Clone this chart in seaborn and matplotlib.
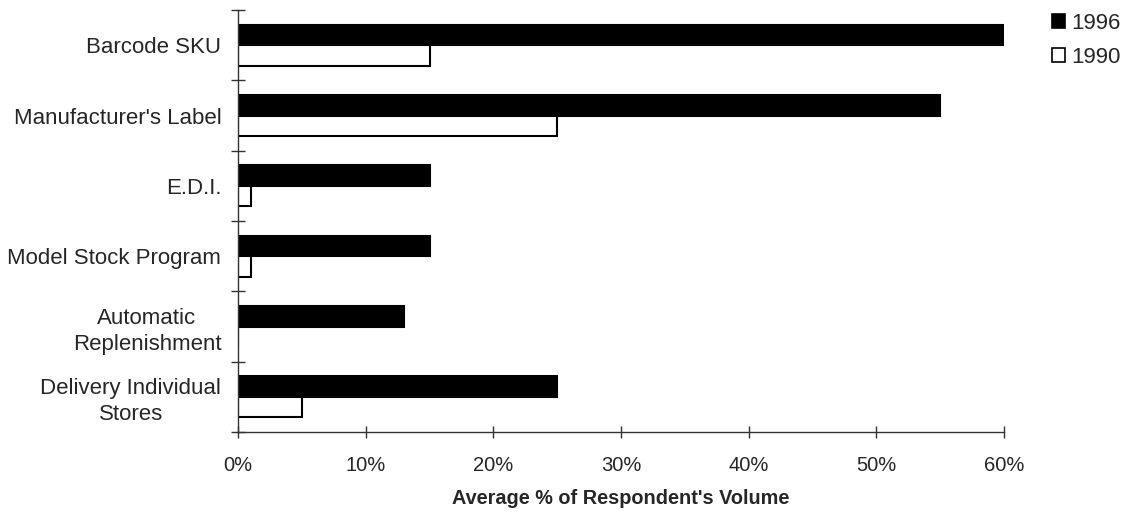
import matplotlib
matplotlib.use("Agg")
import matplotlib.pyplot as plt
from matplotlib.patches import Patch
from matplotlib.ticker import FixedLocator, FuncFormatter
import numpy as np
import pandas as pd
import seaborn as sns

# Survey data: share of respondent volume handled by each practice
categories = [
    "Barcode SKU",
    "Manufacturer's Label",
    "E.D.I.",
    "Model Stock Program",
    "Automatic\nReplenishment",
    "Delivery Individual\nStores",
]
years = ["1996", "1990"]
values_1996 = [60, 55, 15, 15, 13, 25]
values_1990 = [15, 25, 1, 1, 0, 5]
x_ticks = [0, 10, 20, 30, 40, 50, 60]

df = pd.DataFrame({
    "category": categories * 2,
    "year": [years[0]] * len(categories) + [years[1]] * len(categories),
    "value": values_1996 + values_1990,
})

sns.set_style("white")
plt.rcParams["font.family"] = ["Liberation Sans", "DejaVu Sans"]

fig, ax = plt.subplots(figsize=(11.3, 5.14), dpi=100)
fig.subplots_adjust(left=238 / 1130, right=1004 / 1130, top=1 - 10 / 514, bottom=1 - 432 / 514)

palette = {"1996": "black", "1990": "white"}
sns.barplot(
    data=df, y="category", x="value", hue="year", hue_order=years,
    order=categories, orient="h", palette=palette, width=0.58, gap=0,
    edgecolor="black", linewidth=1.5, legend=False, ax=ax,
)

ax.set_xlim(0, 60)
ax.set_ylim(len(categories) - 0.5, -0.5)

# x axis: percentage ticks crossing the axis line
ax.xaxis.set_major_locator(FixedLocator(x_ticks))
ax.xaxis.set_major_formatter(FuncFormatter(lambda v, _: f"{v:.0f}%"))
ax.tick_params(axis="x", which="major", direction="inout", length=9, width=1,
               color="#333333", labelsize=14.5, pad=13, bottom=True)

# y axis: ticks at category boundaries, labels centred on each band
ax.yaxis.set_major_locator(FixedLocator(np.arange(-0.5, len(categories), 1.0)))
ax.yaxis.set_major_formatter(FuncFormatter(lambda v, _: ""))
ax.yaxis.set_minor_locator(FixedLocator(np.arange(len(categories))))
ax.set_yticklabels(categories, minor=True)
ax.tick_params(axis="y", which="major", direction="inout", length=10, width=1,
               color="#333333", left=True)
ax.tick_params(axis="y", which="minor", length=0, labelsize=16, pad=12, left=True)
for lbl in ax.get_yticklabels(minor=True):
    lbl.set_multialignment("center")
    lbl.set_linespacing(1.3)

ax.set_ylabel("")
ax.set_xlabel("Average % of Respondent's Volume", fontsize=14.3,
              fontweight="bold", labelpad=10)

for side in ["top", "right"]:
    ax.spines[side].set_visible(False)
for side in ["left", "bottom"]:
    ax.spines[side].set_color("#333333")
    ax.spines[side].set_linewidth(1)

handles = [Patch(facecolor=palette[y], edgecolor="black", linewidth=1.2, label=y)
           for y in years]
fig.legend(handles=handles, loc="upper left", bbox_to_anchor=(1043 / 1130, 1 - 4 / 514),
           frameon=False, fontsize=16, handlelength=0.58, handleheight=0.58,
           handletextpad=0.3, labelspacing=0.6, borderaxespad=0)

fig.savefig("out.png", dpi=100)
